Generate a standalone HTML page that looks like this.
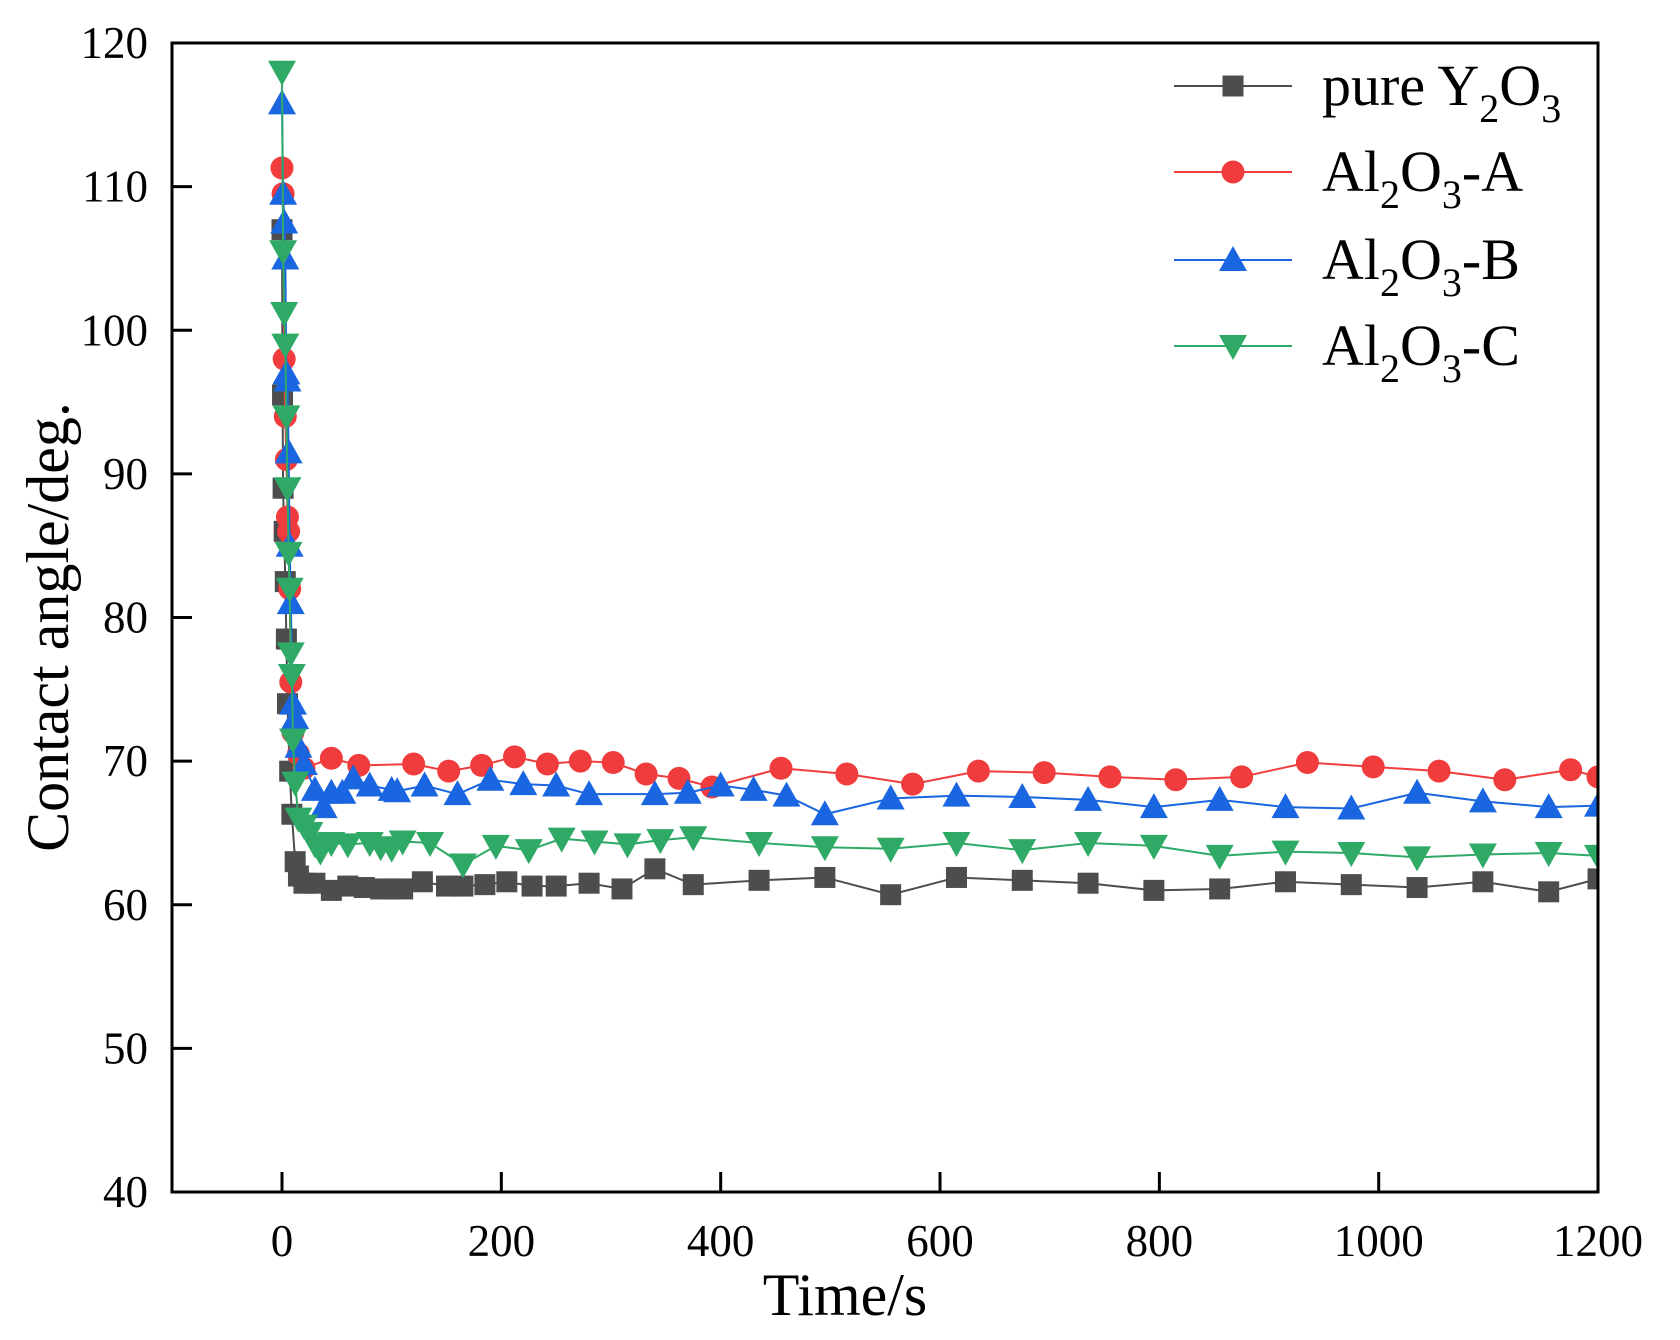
<!DOCTYPE html>
<html><head><meta charset="utf-8"><style>
html,body{margin:0;padding:0;background:#fff;}
svg{display:block;font-family:"Liberation Serif","Times New Roman",serif;}
</style></head><body>
<svg id="s" width="1680" height="1340" xmlns="http://www.w3.org/2000/svg">
<defs><clipPath id="c"><rect x="172" y="43" width="1426" height="1149"/></clipPath></defs>
<g id="plot" clip-path="url(#c)"></g>
<rect x="172" y="43" width="1426" height="1149" fill="none" stroke="#000" stroke-width="3"/>
<g id="axes"></g>
<text x="845" y="1315" font-size="60" text-anchor="middle">Time/s</text>
<text transform="translate(68,627) rotate(-90)" font-size="60" text-anchor="middle">Contact angle/deg.</text>
<g id="leg"></g>
</svg>
<script>
const NS="http://www.w3.org/2000/svg";
const X=t=>282+t*1.0967, Y=v=>1192-(v-40)*14.3625;
function el(p,n,a,txt){const e=document.createElementNS(NS,n);for(const k in a)e.setAttribute(k,a[k]);if(txt!=null)e.textContent=txt;p.appendChild(e);return e;}
const ax=document.getElementById('axes');
for(let v=40;v<=120;v+=10){const y=Y(v);el(ax,'line',{x1:172,x2:192,y1:y,y2:y,stroke:'#000','stroke-width':3});
el(ax,'text',{x:148,y:y+15,'font-size':45,'text-anchor':'end'},v);}
for(let t=0;t<=1200;t+=200){const x=X(t);el(ax,'line',{x1:x,x2:x,y1:1192,y2:1172,stroke:'#000','stroke-width':3});
el(ax,'text',{x:x,y:1256,'font-size':45,'text-anchor':'middle'},t);}
function P(s){return s.trim().split(/\s+/).map(p=>p.split(':').map(Number));}
const series=[
{c:'#4d4d4d',m:'sq',d:P(`0:107 0.5:95.5 1:89 2:86 3:82.5 4:78.5 5:74 7:69.3 9:66.3 12:63 15:62 20:61.5 30:61.5 45:61.0 60:61.3 75:61.2 90:61.1 100:61.1 110:61.1 128:61.6 150:61.3 165:61.3 185:61.4 205:61.6 228:61.3 250:61.3 280:61.5 310:61.1 340:62.5 375:61.4 435:61.7 495:61.9 555:60.7 615:61.9 675:61.7 735:61.5 795:61.0 855:61.1 915:61.6 975:61.4 1035:61.2 1095:61.6 1155:60.9 1200:61.8`)},
{c:'#f03c3c',m:'ci',d:P(`0:111.3 1:109.5 2:98 3:94 4:91 5:87 6:86 7:82 8:75.5 10:72 15:70.5 20:69.5 45:70.2 70:69.7 120:69.8 152:69.3 182:69.7 212:70.3 242:69.8 272:70.0 302:69.9 332:69.1 362:68.8 392:68.2 455:69.5 515:69.1 575:68.4 635:69.3 695:69.2 755:68.9 815:68.7 875:68.9 935:69.9 995:69.6 1055:69.3 1115:68.7 1175:69.4 1200:68.9`)},
{c:'#1a66e0',m:'up',d:P(`0:115.8 1:109.5 2:107.5 3:105 4:97 5:96.5 6:91.5 7:85 8:81 10:74 12:73 15:71 20:69.8 30:68 38:66.8 45:67.8 55:67.8 65:68.8 80:68.3 100:68.0 105:67.9 130:68.3 160:67.7 190:68.7 220:68.4 250:68.3 280:67.7 340:67.7 370:67.8 400:68.3 430:68.0 460:67.6 495:66.3 555:67.4 615:67.6 675:67.5 735:67.3 795:66.8 855:67.3 915:66.8 975:66.7 1035:67.8 1095:67.2 1155:66.8 1200:66.9`)},
{c:'#2eaa66',m:'dn',d:P(`0:118 1:105.5 2:101.2 3:99 4:94 5:89 6:84.5 7:82 8:77.5 9:76 10:71.5 12:68.5 15:66 20:65.5 25:65 30:64.2 35:63.7 45:64.3 60:64.2 80:64.3 90:64.0 100:63.9 110:64.4 135:64.3 165:62.8 195:64.1 225:63.8 255:64.6 285:64.4 315:64.2 345:64.5 375:64.7 435:64.3 495:64.0 555:63.9 615:64.3 675:63.8 735:64.3 795:64.1 855:63.4 915:63.7 975:63.6 1035:63.3 1095:63.5 1155:63.6 1200:63.4`)}];
function mk(g,m,x,y,c){
 if(m==='sq')el(g,'rect',{x:x-10.5,y:y-10.5,width:21,height:21,fill:c});
 else if(m==='ci')el(g,'circle',{cx:x,cy:y,r:11.5,fill:c});
 else if(m==='up')el(g,'polygon',{points:`${x},${y-14} ${x-14},${y+11} ${x+14},${y+11}`,fill:c});
 else el(g,'polygon',{points:`${x},${y+14} ${x-14},${y-11} ${x+14},${y-11}`,fill:c});
}
const pl=document.getElementById('plot');
series.forEach(s=>{el(pl,'polyline',{points:s.d.map(p=>X(p[0])+','+Y(p[1])).join(' '),fill:'none',stroke:s.c,'stroke-width':2});
 s.d.forEach(p=>mk(pl,s.m,X(p[0]),Y(p[1]),s.c));});
const lg=document.getElementById('leg');
const labs=[['pure Y','2','O','3',''],['Al','2','O','3','-A'],['Al','2','O','3','-B'],['Al','2','O','3','-C']];
const ly=[86,172,260,346];
series.forEach((s,i)=>{const y=ly[i];el(lg,'line',{x1:1174,x2:1292,y1:y,y2:y,stroke:s.c,'stroke-width':2});mk(lg,s.m,1233,y,s.c);
 const t=el(lg,'text',{x:1322,y:y+19,'font-size':58});
 const L=labs[i];el(t,'tspan',{},L[0]);el(t,'tspan',{dy:17,'font-size':40},L[1]);el(t,'tspan',{dy:-17},L[2]);el(t,'tspan',{dy:17,'font-size':40},L[3]);el(t,'tspan',{dy:-17},L[4]);});
</script>
</body></html>
